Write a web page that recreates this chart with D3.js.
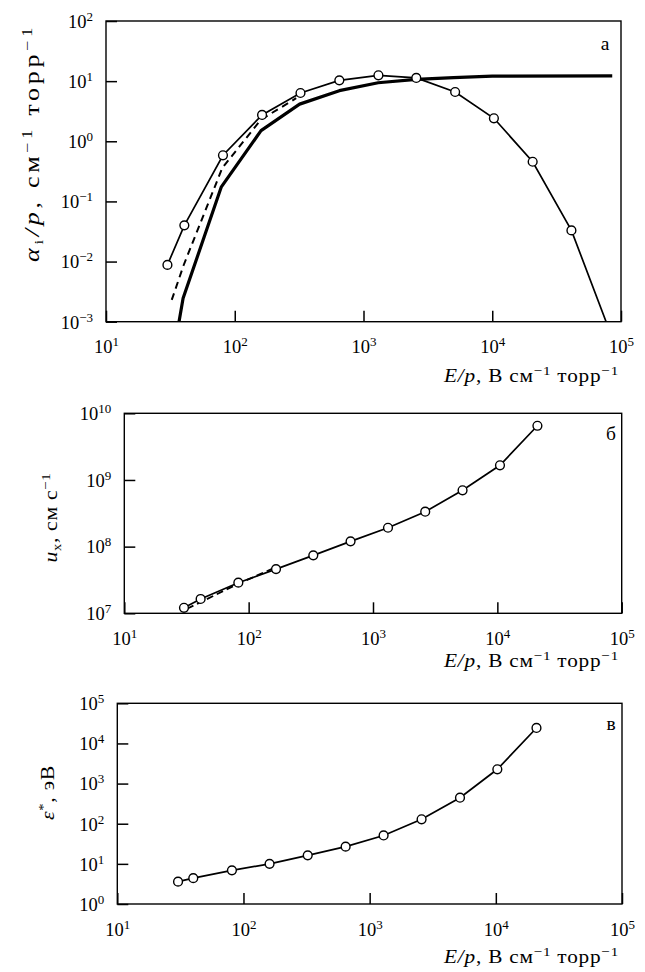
<!DOCTYPE html>
<html><head><meta charset="utf-8">
<script src="https://cdn.jsdelivr.net/npm/d3@7"></script>
<style>
html,body{margin:0;padding:0;background:#fff;}
svg{display:block;}
</style></head>
<body>
<svg id="chart" width="645" height="972"></svg>
<script>
// ---------- data ----------
// panel a: ionization coefficient alpha_i/p
const aE_circ   = [30, 40.6, 81, 163, 324, 649, 1306, 2570, 5150, 10300, 20600, 41200, 82000];
const aV_circ   = [0.0088, 0.040, 0.585, 2.74, 6.35, 10.3, 12.5, 11.3, 6.6, 2.41, 0.457, 0.033, 0.00068];
const aE_thick  = [35, 39.7, 78.7, 160, 319, 649, 1300, 2570, 5000, 10000, 85500];
const aV_thick  = [0.00052, 0.00245, 0.175, 1.5, 4.15, 6.95, 9.4, 10.7, 11.4, 12.1, 12.2];
const aE_dash   = [32.4, 40, 80, 160, 300];
const aV_dash   = [0.0023, 0.0086, 0.36, 2.3, 5.2];
// panel b: drift velocity u_x
const bE_circ   = [30.2, 41.1, 82.6, 166, 331, 660, 1320, 2630, 5250, 10500, 21000];
const bV_circ   = [1.21e7, 1.64e7, 2.88e7, 4.6e7, 7.4e7, 1.2e8, 1.92e8, 3.34e8, 7.0e8, 1.66e9, 6.5e9];
const bE_dash   = [32, 80, 165];
const bV_dash   = [1.17e7, 2.7e7, 4.9e7];
// panel c: characteristic energy
const cE_circ   = [30.3, 40, 81, 161, 323, 645, 1290, 2580, 5200, 10280, 21000];
const cV_circ   = [3.6, 4.4, 6.9, 10, 16.3, 26.8, 51, 129, 445, 2270, 24300];
// tick exponents
const xExps  = [1, 2, 3, 4, 5];
const aYExps = [-3, -2, -1, 0, 1, 2];
const bYExps = [7, 8, 9, 10];
const cYExps = [0, 1, 2, 3, 4, 5];

const FONT = "'Liberation Serif', 'Times New Roman', serif";
const svg = d3.select("#chart").style("font-family", FONT);
const FS = 18.5, SUP = 13;

const panels = [
  {id:"a", L:106, R:621, T:21, B:321.7, yExps:aYExps, letter:"а", lx:605, ly:50,
   ytitleX:39, ytitleY:143, ytitleW:238, ytFS:20, titleY:381.7},
  {id:"b", L:124.3, R:621.7, T:413.3, B:613.3, yExps:bYExps, letter:"б", lx:611, ly:440,
   ytitleX:57, ytitleY:517.5, ytitleW:90, ytFS:19.5, titleY:667},
  {id:"c", L:117.3, R:622, T:703.3, B:904, yExps:cYExps, letter:"в", lx:611, ly:730,
   ytitleX:54, ytitleY:792.5, ytitleW:55, ytFS:19.5, titleY:963}
];

function supMinus(n){ return (n<0?"\u2212":"") + Math.abs(n); }
function txt(sel){ return sel.append("text").style("font-family", FONT).attr("fill","#000"); }
// widen a text to a target length: moderate glyph stretch, remainder as letter spacing
function fitLen(t, target, maxScale){
  const node = t.node();
  const w = node.getComputedTextLength();
  const n = node.textContent.length;
  const s = Math.max(1, Math.min(maxScale, target / w));
  const extra = target / s - w;
  if (extra > 0 && n > 1) t.attr("letter-spacing", (extra / n).toFixed(2));
  t.attr("transform", `scale(${s.toFixed(3)},1)`);
}

function drawPanel(p){
  const x = d3.scaleLog().domain([1e1,1e5]).range([p.L,p.R]);
  const y = d3.scaleLog().domain([Math.pow(10,p.yExps[0]), Math.pow(10,p.yExps[p.yExps.length-1])]).range([p.B,p.T]);
  const g = svg.append("g");

  g.append("clipPath").attr("id","clip"+p.id).append("rect")
    .attr("x",p.L).attr("y",p.T).attr("width",p.R-p.L).attr("height",p.B-p.T);

  // x axis
  const xAx = d3.axisBottom(x).tickValues(xExps.map(e=>Math.pow(10,e)))
    .tickSizeInner(-11).tickSizeOuter(0).tickFormat(d=>Math.round(Math.log10(d)));
  const gx = g.append("g").attr("transform",`translate(0,${p.B})`).call(xAx).attr("font-family",null);
  gx.select(".domain").remove();
  gx.selectAll(".tick line").attr("stroke","#000").attr("stroke-width",1.5);
  gx.selectAll(".tick text").each(function(d){
    const t = d3.select(this); const e = Math.round(Math.log10(d));
    t.text("").attr("y",31.6).attr("dy",null).attr("font-size",FS).attr("fill","#000")
      .style("font-family",FONT);
    t.append("tspan").text("10");
    t.append("tspan").attr("dy",-7).attr("font-size",SUP).text(supMinus(e));
  });

  // y axis
  const yAx = d3.axisLeft(y).tickValues(p.yExps.map(e=>Math.pow(10,e)))
    .tickSizeInner(-11).tickSizeOuter(0).tickFormat(d=>Math.round(Math.log10(d)));
  const gy = g.append("g").attr("transform",`translate(${p.L},0)`).call(yAx).attr("font-family",null);
  gy.select(".domain").remove();
  gy.selectAll(".tick line").attr("stroke","#000").attr("stroke-width",1.5);
  gy.selectAll(".tick text").each(function(d){
    const t = d3.select(this); const e = Math.round(Math.log10(d));
    t.text("").attr("x",-13).attr("y",6.3).attr("dy",null).attr("font-size",FS).attr("fill","#000")
      .style("font-family",FONT);
    t.append("tspan").text("10");
    t.append("tspan").attr("dy",-7).attr("font-size",SUP).text(supMinus(e));
  });

  // frame
  g.append("rect").attr("x",p.L).attr("y",p.T).attr("width",p.R-p.L).attr("height",p.B-p.T)
    .attr("fill","none").attr("stroke","#000").attr("stroke-width",1.4);

  // panel letter
  txt(g).attr("x",p.lx).attr("y",p.ly).attr("text-anchor","middle")
    .attr("font-size",FS+1).text(p.letter);

  // x title
  const xg = g.append("g").attr("transform",`translate(619,${p.titleY})`);
  const xt = txt(xg).attr("x",0).attr("y",0).attr("text-anchor","end").attr("font-size",FS+0.5);
  xt.append("tspan").attr("font-style","italic").text("E");
  xt.append("tspan").attr("font-style","italic").text("/");
  xt.append("tspan").attr("font-style","italic").text("p");
  xt.append("tspan").text(", В см");
  xt.append("tspan").attr("dy",-7).attr("font-size",SUP+0.5).text("\u22121");
  xt.append("tspan").attr("dy",7).text(" торр");
  xt.append("tspan").attr("dy",-7).attr("font-size",SUP+0.5).text("\u22121");
  fitLen(xt, 175, 1.12);

  const line = d3.line().x(d=>x(d[0])).y(d=>y(d[1]));
  const plot = g.append("g").attr("clip-path",`url(#clip${p.id})`);
  return {x,y,g,plot,line};
}

const [A,B,C] = panels.map(drawPanel);

function zip(a,b){ return a.map((v,i)=>[v,b[i]]); }
function circles(P, data){
  P.plot.selectAll(null).data(data).enter().append("circle")
    .attr("cx",d=>P.x(d[0])).attr("cy",d=>P.y(d[1])).attr("r",4.4)
    .attr("fill","#fff").attr("stroke","#000").attr("stroke-width",1.4);
}

// panel a
A.plot.append("path").attr("d",A.line(zip(aE_thick,aV_thick))).attr("fill","none")
  .attr("stroke","#000").attr("stroke-width",3.2).attr("stroke-linejoin","round");
A.plot.append("path").attr("d",A.line(zip(aE_dash,aV_dash))).attr("fill","none")
  .attr("stroke","#000").attr("stroke-width",2).attr("stroke-dasharray","7,5");
A.plot.append("path").attr("d",A.line(zip(aE_circ,aV_circ))).attr("fill","none")
  .attr("stroke","#000").attr("stroke-width",1.7);
circles(A, zip(aE_circ,aV_circ));

// panel b
B.plot.append("path").attr("d",B.line(zip(bE_dash,bV_dash))).attr("fill","none")
  .attr("stroke","#000").attr("stroke-width",1.8).attr("stroke-dasharray","7,4");
B.plot.append("path").attr("d",B.line(zip(bE_circ,bV_circ))).attr("fill","none")
  .attr("stroke","#000").attr("stroke-width",1.7);
circles(B, zip(bE_circ,bV_circ));

// panel c
C.plot.append("path").attr("d",C.line(zip(cE_circ,cV_circ))).attr("fill","none")
  .attr("stroke","#000").attr("stroke-width",1.7);
circles(C, zip(cE_circ,cV_circ));

// y titles
function ytitle(p){
  const g = svg.append("g").attr("transform",`translate(${p.ytitleX},${p.ytitleY}) rotate(-90)`);
  return txt(g).attr("x",0).attr("y",0).attr("text-anchor","middle").attr("font-size",p.ytFS);
}
let t = ytitle(panels[0]);
t.append("tspan").attr("font-style","italic").text("α");
t.append("tspan").attr("dy",4).attr("font-size",SUP).text("i");
t.append("tspan").attr("dy",-4).attr("font-style","italic").text("/");
t.append("tspan").attr("font-style","italic").text("p");
t.append("tspan").text(", см");
t.append("tspan").attr("dy",-7.5).attr("font-size",SUP+1).text("\u22121");
t.append("tspan").attr("dy",7.5).text(" торр");
t.append("tspan").attr("dy",-7.5).attr("font-size",SUP+1).text("\u22121");
fitLen(t, panels[0].ytitleW, 1.3);

t = ytitle(panels[1]);
t.append("tspan").attr("font-style","italic").text("u");
t.append("tspan").attr("dy",4).attr("font-size",SUP).text("х");
t.append("tspan").attr("dy",-4).text(", см с");
t.append("tspan").attr("dy",-7).attr("font-size",SUP+0.5).text("\u22121");
fitLen(t, panels[1].ytitleW, 1.12);

t = ytitle(panels[2]);
t.append("tspan").attr("font-style","italic").text("ε");
t.append("tspan").attr("dy",-7).attr("font-size",SUP).text("*");
t.append("tspan").attr("dy",7).text(", эВ");
fitLen(t, panels[2].ytitleW, 1.12);
</script>
</body></html>
